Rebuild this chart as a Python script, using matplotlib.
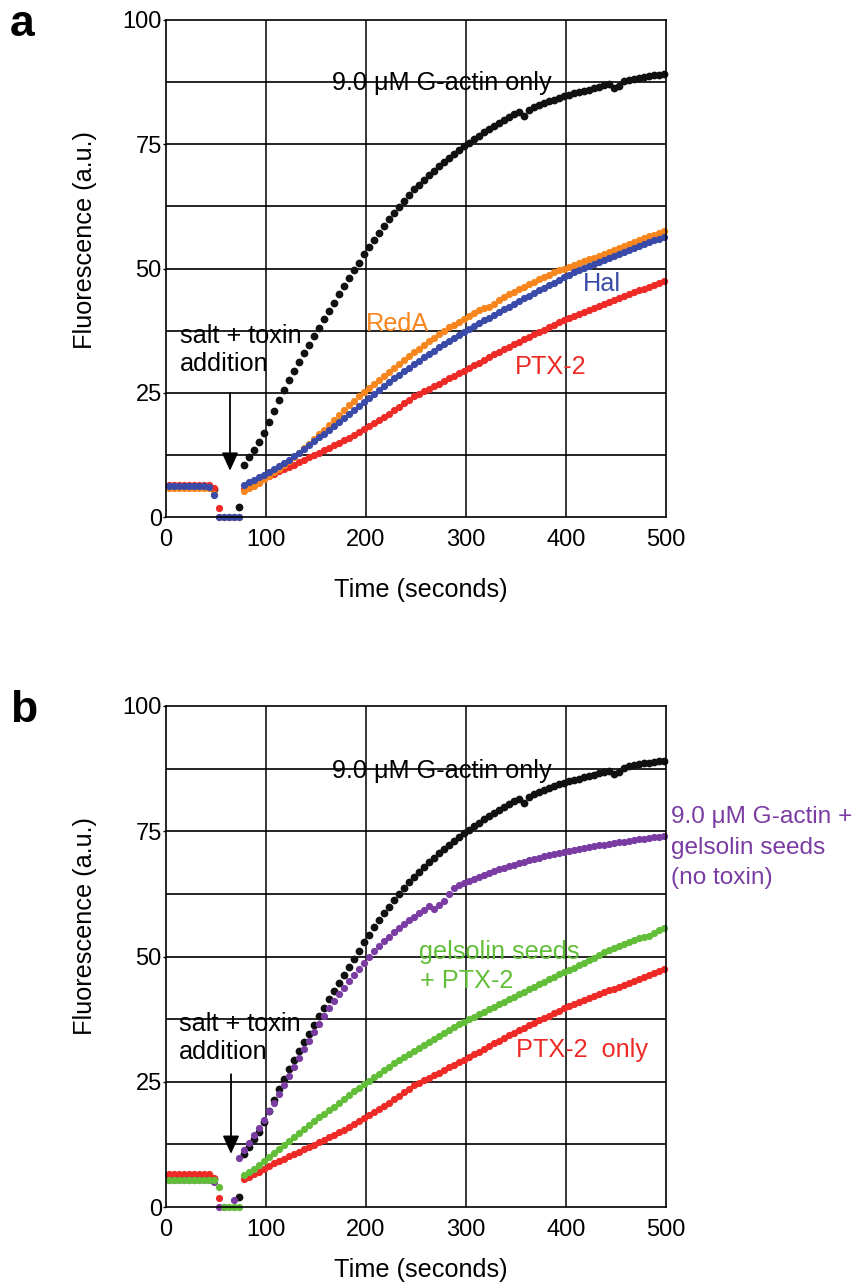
import numpy as np
import matplotlib
matplotlib.use('Agg')
import matplotlib.pyplot as plt

plt.rcParams['font.family'] = ['Liberation Sans', 'DejaVu Sans']

nan = np.nan

# 采样时间 (秒)
time_s = [3, 8, 13, 18, 23, 28, 33, 38, 43, 48,
          53, 58, 63, 68, 73, 78, 83, 88, 93, 98,
          103, 108, 113, 118, 123, 128, 133, 138, 143, 148,
          153, 158, 163, 168, 173, 178, 183, 188, 193, 198,
          203, 208, 213, 218, 223, 228, 233, 238, 243, 248,
          253, 258, 263, 268, 273, 278, 283, 288, 293, 298,
          303, 308, 313, 318, 323, 328, 333, 338, 343, 348,
          353, 358, 363, 368, 373, 378, 383, 388, 393, 398,
          403, 408, 413, 418, 423, 428, 433, 438, 443, 448,
          453, 458, 463, 468, 473, 478, 483, 488, 493, 498]

# 9.0 uM G-actin only (黑)
g_actin = [6.3, 6.3, 6.3, 6.3, 6.3, 6.3, 6.3, 6.3, 6.3, 5.6,
           nan, nan, nan, nan, 2.0, 10.5, 12.0, 13.5, 15.0, 17.0,
           19.2, 21.4, 23.5, 25.5, 27.5, 29.3, 31.1, 32.9, 34.6, 36.4,
           38.1, 39.8, 41.5, 43.1, 44.8, 46.4, 48.0, 49.6, 51.1, 52.9,
           54.3, 55.8, 57.2, 58.6, 59.9, 61.2, 62.4, 63.6, 64.8, 65.9,
           66.9, 67.9, 68.8, 69.7, 70.6, 71.4, 72.2, 73.0, 73.8, 74.6,
           75.3, 76.0, 76.7, 77.4, 78.1, 78.7, 79.3, 79.9, 80.5, 81.0,
           81.4, 80.6, 81.9, 82.5, 82.9, 83.3, 83.7, 84.0, 84.4, 84.7,
           85.0, 85.3, 85.5, 85.8, 86.0, 86.3, 86.6, 86.9, 87.1, 86.4,
           86.8, 87.7, 88.0, 88.2, 88.4, 88.6, 88.7, 88.9, 89.0, 89.1]

# RedA (橙)
reda = [5.9, 5.9, 5.9, 5.9, 5.9, 5.9, 5.9, 5.9, 5.8, 4.6,
        0, 0, 0, 0, 0, 5.3, 5.8, 6.3, 6.8, 7.6,
        8.3, 9.0, 9.7, 10.5, 11.3, 12.1, 12.9, 13.8, 14.7, 15.6,
        16.6, 17.6, 18.6, 19.6, 20.6, 21.6, 22.5, 23.4, 24.3, 25.1,
        25.9, 26.7, 27.5, 28.3, 29.1, 29.9, 30.7, 31.5, 32.3, 33.1,
        33.9, 34.7, 35.4, 36.1, 36.8, 37.5, 38.2, 38.7, 39.3, 39.9,
        40.5, 41.1, 41.7, 42.1, 42.3, 42.9, 43.6, 44.2, 44.8, 45.3,
        45.8, 46.3, 46.8, 47.3, 47.8, 48.3, 48.7, 49.2, 49.6, 50.0,
        50.4, 50.8, 51.2, 51.5, 51.9, 52.2, 52.6, 52.9, 53.3, 53.7,
        54.1, 54.5, 54.9, 55.3, 55.7, 56.1, 56.5, 56.8, 57.2, 57.5]

# Hal (蓝)
hal = [6.3, 6.3, 6.3, 6.3, 6.3, 6.3, 6.3, 6.3, 6.1, 4.4,
       0, 0, 0, 0, 0, 6.5, 7.0, 7.5, 8.0, 8.5,
       9.0, 9.6, 10.2, 10.8, 11.5, 12.2, 12.9, 13.6, 14.4, 15.2,
       16.0, 16.8, 17.6, 18.4, 19.2, 20.0, 20.8, 21.6, 22.4, 23.2,
       24.0, 24.8, 25.6, 26.4, 27.2, 27.9, 28.6, 29.3, 30.0, 30.7,
       31.4, 32.1, 32.8, 33.5, 34.2, 34.9, 35.5, 36.1, 36.7, 37.3,
       37.8, 38.4, 39.0, 39.6, 40.1, 40.7, 41.2, 41.8, 42.3, 42.9,
       43.4, 44.0, 44.5, 45.0, 45.6, 46.1, 46.6, 47.1, 47.7, 48.2,
       48.7, 49.2, 49.7, 50.2, 50.6, 51.0, 51.4, 51.8, 52.2, 52.6,
       53.0, 53.4, 53.8, 54.2, 54.6, 55.0, 55.3, 55.7, 56.0, 56.4]

# PTX-2 (红)
ptx2 = [6.5, 6.5, 6.5, 6.5, 6.5, 6.5, 6.5, 6.5, 6.5, 5.8,
        1.8, nan, nan, nan, nan, 5.6, 6.0, 6.5, 7.0, 7.6,
        8.2, 8.7, 9.2, 9.6, 10.1, 10.5, 11.0, 11.5, 12.0, 12.4,
        12.9, 13.4, 13.9, 14.4, 14.9, 15.4, 15.9, 16.5, 17.1, 17.7,
        18.3, 18.9, 19.5, 20.2, 20.8, 21.5, 22.2, 22.9, 23.6, 24.3,
        24.8, 25.3, 25.8, 26.3, 26.8, 27.3, 27.9, 28.4, 28.9, 29.4,
        29.9, 30.5, 31.0, 31.6, 32.1, 32.7, 33.2, 33.8, 34.3, 34.8,
        35.3, 35.8, 36.3, 36.8, 37.3, 37.7, 38.2, 38.7, 39.2, 39.7,
        40.1, 40.5, 40.9, 41.3, 41.7, 42.1, 42.5, 42.9, 43.3, 43.6,
        44.0, 44.4, 44.8, 45.2, 45.6, 45.9, 46.3, 46.7, 47.1, 47.5]

# G-actin + gelsolin seeds, no toxin (紫)
gelsolin = [5.4, 5.4, 5.4, 5.4, 5.4, 5.4, 5.4, 5.4, 5.3, 5.0,
            0, 0, nan, 1.3, 9.8, 11.3, 12.8, 14.3, 15.8, 17.4,
            19.1, 20.8, 22.6, 24.4, 26.2, 28.0, 29.8, 31.5, 33.2, 34.9,
            36.6, 38.2, 39.7, 41.1, 42.5, 43.8, 45.1, 46.4, 47.6, 48.8,
            49.9, 51.0, 52.0, 53.0, 53.9, 54.8, 55.6, 56.4, 57.2, 57.9,
            58.6, 59.3, 60.0, 59.4, 60.3, 61.0, 62.5, 63.7, 64.2, 64.7,
            65.1, 65.5, 65.9, 66.3, 66.7, 67.0, 67.4, 67.7, 68.0, 68.3,
            68.6, 68.9, 69.2, 69.5, 69.7, 70.0, 70.2, 70.4, 70.6, 70.8,
            71.0, 71.2, 71.4, 71.6, 71.8, 72.0, 72.2, 72.3, 72.5, 72.6,
            72.8, 72.9, 73.1, 73.2, 73.4, 73.5, 73.6, 73.8, 73.9, 74.0]

# gelsolin seeds + PTX-2 (绿)
seeds_ptx = [5.4, 5.4, 5.4, 5.4, 5.4, 5.4, 5.4, 5.4, 5.4, 5.3,
             4.0, 0, 0, 0, 0, 6.3, 6.9, 7.6, 8.3, 9.1,
             9.9, 10.7, 11.5, 12.3, 13.1, 13.9, 14.7, 15.5, 16.3, 17.1,
             17.9, 18.6, 19.3, 20.0, 20.8, 21.6, 22.4, 23.1, 23.8, 24.5,
             25.2, 25.9, 26.6, 27.3, 28.0, 28.7, 29.4, 30.0, 30.6, 31.2,
             31.8, 32.4, 33.0, 33.6, 34.2, 34.8, 35.4, 36.0, 36.5, 37.0,
             37.5, 38.0, 38.5, 39.0, 39.5, 40.0, 40.5, 41.0, 41.5, 42.0,
             42.5, 43.0, 43.5, 44.0, 44.5, 45.0, 45.5, 46.0, 46.5, 47.0,
             47.4, 47.8, 48.3, 48.8, 49.3, 49.8, 50.3, 50.8, 51.2, 51.6,
             52.0, 52.4, 52.8, 53.2, 53.6, 53.8, 54.0, 54.6, 55.2, 55.6]

x_ticks = [0, 100, 200, 300, 400, 500]
y_ticks = [0, 25, 50, 75, 100]
y_grid = [12.5, 25, 37.5, 50, 62.5, 75, 87.5]

BLACK = '#111111'
ORANGE = '#f7861e'
BLUE = '#3a4aa8'
RED = '#ee2a26'
PURPLE = '#7a3ca3'
GREEN = '#62be38'

W, H = 859, 1284
fig = plt.figure(figsize=(W / 100, H / 100), dpi=100)


def make_axes(top_px, bottom_px):
    ax = fig.add_axes([166 / W, 1 - bottom_px / H, 500 / W, (bottom_px - top_px) / H])
    ax.set_xlim(0, 500)
    ax.set_ylim(0, 100)
    ax.set_xticks(x_ticks)
    ax.set_yticks(y_ticks)
    for v in y_grid:
        ax.axhline(v, color='black', lw=1.2, zorder=0)
    for v in x_ticks[1:-1]:
        ax.axvline(v, color='black', lw=1.1, zorder=0)
    for s in ax.spines.values():
        s.set_linewidth(1.2)
    ax.tick_params(axis='x', length=0, pad=9, labelsize=17)
    ax.tick_params(axis='y', length=2.5, width=1, pad=0.5, labelsize=17)
    return ax


def dots(ax, y, color, size=5.2):
    ax.plot(time_s, y, linestyle='none', marker='o', markersize=size,
            markeredgewidth=0, color=color, clip_on=False)


def arrow(ax, x, y0, y1):
    ax.annotate('', xy=(x, y1), xytext=(x, y0),
                arrowprops=dict(arrowstyle='-|>,head_length=0.55,head_width=0.25',
                                color='black', lw=1.3, mutation_scale=20,
                                shrinkA=0, shrinkB=0))


FS = 18.2

# ── 图 a ──
ax1 = make_axes(20, 517)
dots(ax1, g_actin, BLACK, 5.6)
dots(ax1, ptx2, RED)
dots(ax1, reda, ORANGE)
dots(ax1, hal, BLUE)

ax1.text(276, 87.3, '9.0 \u03bcM G-actin only', ha='center', va='center', fontsize=FS, color='black')
ax1.text(231, 38.8, 'RedA', ha='center', va='center', fontsize=FS, color=ORANGE)
ax1.text(436, 46.9, 'Hal', ha='center', va='center', fontsize=FS, color=BLUE)
ax1.text(385, 30.2, 'PTX-2', ha='center', va='center', fontsize=FS, color=RED)
ax1.text(14, 36.4, 'salt + toxin', ha='left', va='center', fontsize=FS)
ax1.text(14, 30.8, 'addition', ha='left', va='center', fontsize=FS)
arrow(ax1, 64, 24.9, 9.3)

# ── 图 b ──
ax2 = make_axes(706, 1207)
dots(ax2, g_actin, BLACK, 5.6)
dots(ax2, gelsolin, PURPLE)
dots(ax2, ptx2, RED)
dots(ax2, seeds_ptx, GREEN)

ax2.text(276, 87.0, '9.0 \u03bcM G-actin only', ha='center', va='center', fontsize=FS, color='black')
ax2.text(253, 50.9, 'gelsolin seeds', ha='left', va='center', fontsize=FS, color=GREEN)
ax2.text(254, 45.1, '+ PTX-2', ha='left', va='center', fontsize=FS, color=GREEN)
ax2.text(350, 31.3, 'PTX-2  only', ha='left', va='center', fontsize=FS, color=RED)
ax2.text(13, 36.5, 'salt + toxin', ha='left', va='center', fontsize=FS)
ax2.text(13, 30.9, 'addition', ha='left', va='center', fontsize=FS)
for v, s in zip([77.8, 71.7, 65.7], ['9.0 \u03bcM G-actin +', 'gelsolin seeds', '(no toxin)']):
    ax2.text(505, v, s, ha='left', va='center', fontsize=17.6, color=PURPLE, clip_on=False)
arrow(ax2, 65, 26.5, 10.6)

# 轴标题和面板字母
for dy in [0, 686]:
    fig.text(85 / W, 1 - (240 + dy) / H, 'Fluorescence (a.u.)', rotation=90,
             ha='center', va='center', fontsize=FS)
    fig.text(421 / W, 1 - (590 + dy - (6 if dy else 0)) / H, 'Time (seconds)',
             ha='center', va='center', fontsize=FS)
    fig.text(10 / W, 1 - (36 + dy) / H, 'a' if dy == 0 else 'b', ha='left', va='baseline',
             fontsize=32, fontweight='bold')

fig.savefig('out.png', dpi=100)
